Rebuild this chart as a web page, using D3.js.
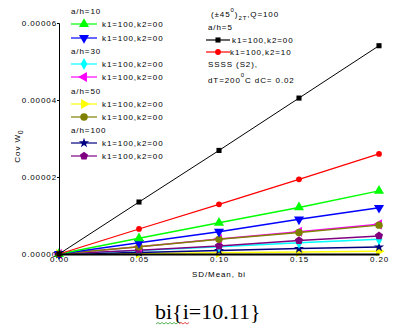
<!DOCTYPE html>
<html><head><meta charset="utf-8">
<script src="https://cdn.jsdelivr.net/npm/d3@7"></script>
<style>
body{margin:0;background:#fff;}
svg text{font-family:"Liberation Sans",Arial,sans-serif;}
.t{font-size:8px;letter-spacing:0.9px;fill:#000;}
</style></head><body>
<svg id="c" width="396" height="336"></svg>
<script>
const xValues = [0, 0.05, 0.10, 0.15, 0.20];
const xTicks = [0, 0.05, 0.10, 0.15, 0.20];
const yTicks = [0, 0.00002, 0.00004, 0.00006];
// values in units of 1e-5
const sBlack   = [0, 1.35, 2.69, 4.05, 5.41];
const sRed     = [0, 0.65, 1.29, 1.94, 2.60];
const sGreen   = [0, 0.41, 0.81, 1.21, 1.64];
const sBlue    = [0, 0.29, 0.58, 0.90, 1.20];
const sCyan    = [0, 0.09, 0.19, 0.29, 0.38];
const sMagenta = [0, 0.19, 0.39, 0.58, 0.77];
const sYellow  = [0, 0.01, 0.03, 0.05, 0.07];
const sOlive   = [0, 0.19, 0.38, 0.56, 0.75];
const sNavy    = [0, 0.04, 0.09, 0.14, 0.18];
const sPurple  = [0, 0.10, 0.21, 0.35, 0.47];

const series = [
  {v:sYellow, c:"#ffff00", m:"tri", rot:90, w:1.5},
  {v:sNavy, c:"#000080", m:"star", rot:0, w:1.5},
  {v:sCyan, c:"#00ffff", m:"diamond", rot:0, w:1.5},
  {v:sPurple, c:"#800080", m:"pent", rot:0, w:1.5},
  {v:sMagenta, c:"#ff00ff", m:"tri", rot:-90, w:1.5},
  {v:sOlive, c:"#808000", m:"circle", rot:0, w:1.5},
  {v:sBlue, c:"#0000ff", m:"tri", rot:180, w:1.5},
  {v:sGreen, c:"#00ff00", m:"tri", rot:0, w:1.5},
  {v:sRed, c:"#ff0000", m:"redc", rot:0, w:1.2},
  {v:sBlack, c:"#000000", m:"square", rot:0, w:1}
];

const svg = d3.select("#c");
const x = d3.scaleLinear().domain([0,0.2]).range([59,379]);
const y = d3.scaleLinear().domain([0,0.00006]).range([254,23]);

const pent = {draw(ctx,size){const r=Math.sqrt(size/2.4);for(let i=0;i<5;i++){const a=-Math.PI/2+i*2*Math.PI/5;const px=r*Math.cos(a),py=r*Math.sin(a);i?ctx.lineTo(px,py):ctx.moveTo(px,py);}ctx.closePath();}};
function sym(m){
  switch(m){
    case "tri": return d3.symbol(d3.symbolTriangle,44)();
    case "star": return d3.symbol(d3.symbolStar,32)();
    case "diamond": return d3.symbol(d3.symbolDiamond,40)();
    case "pent": return d3.symbol(pent,44)();
    case "circle": return d3.symbol(d3.symbolCircle,44)();
    case "redc": return d3.symbol(d3.symbolCircle,26)();
    case "square": return d3.symbol(d3.symbolSquare,26)();
  }
}

// series
const line = d3.line().x((d,i)=>x(xValues[i])).y(d=>y(d*1e-5));
series.forEach(s=>{
  svg.append("path").datum(s.v).attr("d",line).attr("fill","none").attr("stroke",s.c).attr("stroke-width",s.w);
  svg.append("g").selectAll("path").data(s.v).join("path")
    .attr("d",sym(s.m))
    .attr("transform",(d,i)=>`translate(${x(xValues[i])},${y(d*1e-5)}) rotate(${s.rot})`)
    .attr("fill",s.c);
});

// axes
const xAxis = d3.axisBottom(x).tickValues(xTicks).tickSize(0).tickFormat(d3.format(".2f"));
const gx = svg.append("g").attr("transform","translate(0,254)").call(xAxis);
gx.select(".domain").attr("stroke","#000").attr("stroke-width",2);
gx.selectAll("text").attr("class","t").attr("dy",null).attr("y",8).style("font-size","8px");

const yAxis = d3.axisLeft(y).tickValues(yTicks).tickSize(2).tickFormat(d=>d.toFixed(5));
const gy = svg.append("g").attr("transform","translate(59,0)").call(yAxis);
gy.select(".domain").attr("stroke","#000").attr("stroke-width",1);
gy.selectAll("text").attr("class","t").attr("x",-2).style("font-size","8px");

// left legend
const leftLegend = [
  {t:"a/h=10"},
  {s:7, k:"k1=100,k2=00"},
  {s:6, k:"k1=100,k2=00"},
  {t:"a/h=30"},
  {s:2, k:"k1=100,k2=00"},
  {s:4, k:"k1=100,k2=00"},
  {t:"a/h=50"},
  {s:0, k:"k1=100,k2=00"},
  {s:5, k:"k1=100,k2=00"},
  {t:"a/h=100"},
  {s:1, k:"k1=100,k2=00"},
  {s:3, k:"k1=100,k2=00"}
];
const rowY = [11,24,38,51,64,77,91,104,117,130,143,156];
leftLegend.forEach((r,i)=>{
  const yy = rowY[i];
  if(r.t){ svg.append("text").attr("class","t").attr("x",71).attr("y",yy+3).text(r.t); return; }
  const s = series[r.s];
  svg.append("line").attr("x1",71).attr("x2",97).attr("y1",yy).attr("y2",yy).attr("stroke",s.c).attr("stroke-width",1.2);
  svg.append("path").attr("d",sym(s.m)).attr("transform",`translate(84,${yy}) rotate(${s.rot})`).attr("fill",s.c);
  svg.append("text").attr("class","t").attr("x",102).attr("y",yy+3).text(r.k);
});

// right legend
const t1 = svg.append("text").attr("class","t").attr("x",211).attr("y",17);
t1.append("tspan").text("(±45");
t1.append("tspan").attr("dy",-5).style("font-size","6px").text("0");
t1.append("tspan").attr("dy",5).text(")");
t1.append("tspan").attr("dy",3).style("font-size","6px").text("2T");
t1.append("tspan").attr("dy",-3).text(",Q=100");
svg.append("text").attr("class","t").attr("x",208).attr("y",30).text("a/h=5");
[[9,40,232,"k1=100,k2=00"],[8,52,230,"k1=100,k2=10"]].forEach(([si,yy,tx,k])=>{
  const s = series[si];
  svg.append("line").attr("x1",206).attr("x2",230).attr("y1",yy).attr("y2",yy).attr("stroke",s.c).attr("stroke-width",1.2);
  svg.append("path").attr("d",sym(s.m)).attr("transform",`translate(218,${yy})`).attr("fill",s.c);
  svg.append("text").attr("class","t").attr("x",tx).attr("y",yy+3).text(k);
});
svg.append("text").attr("class","t").attr("x",208).attr("y",67).text("SSSS (S2),");
const t2 = svg.append("text").attr("class","t").attr("x",208).attr("y",83);
t2.append("tspan").text("dT=200");
t2.append("tspan").attr("dy",-6).style("font-size","6px").text("0");
t2.append("tspan").attr("dy",6).text("C dC= 0.02");

// axis titles
svg.append("text").attr("class","t").attr("text-anchor","middle").attr("x",219).attr("y",277).text("SD/Mean, bi");
const yl = svg.append("text").attr("class","t").attr("transform","translate(20,146) rotate(-90)").attr("text-anchor","middle");
yl.append("tspan").text("Cov W");
yl.append("tspan").attr("dy",3).style("font-size","7px").text("0");

// caption
svg.append("text").attr("x",155).attr("y",319).style("font-family","'Liberation Serif','Times New Roman',serif").style("font-size","22px").attr("fill","#000").text("bi{i=10.11}");
function wavy(x0,x1,yy,c){let d=`M${x0},${yy}`;let up=true;for(let xx=x0+2;xx<=x1;xx+=2){d+=`L${xx},${yy+(up?-1.5:0)}`;up=!up;}svg.append("path").attr("d",d).attr("fill","none").attr("stroke",c).attr("stroke-width",0.8);}
wavy(156,178,324,"#2a9d2a");
wavy(179,189,324,"#e02020");
</script></body></html>
